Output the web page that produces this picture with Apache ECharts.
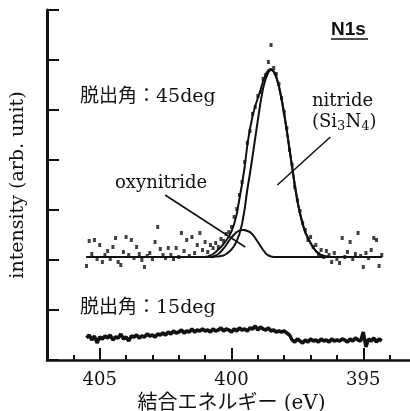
<!DOCTYPE html>
<html>
<head>
<meta charset="utf-8">
<script src="https://cdn.jsdelivr.net/npm/echarts@6/dist/echarts.min.js"></script>
<style>
  html, body { margin: 0; padding: 0; background: #fff; }
  #container { width: 410px; height: 411px; }
</style>
</head>
<body>
<div id="container"></div>
<script>
// binding energy grid of the measured spectra (eV)
var energy = [
    405.5,405.4,405.3,405.2,405.1,405.0,404.9,404.8,404.7,404.6,
    404.5,404.4,404.3,404.2,404.1,404.0,403.9,403.8,403.7,403.6,
    403.5,403.4,403.3,403.2,403.1,403.0,402.9,402.8,402.7,402.6,
    402.5,402.4,402.3,402.2,402.1,402.0,401.9,401.8,401.7,401.6,
    401.5,401.4,401.3,401.2,401.1,401.0,400.9,400.8,400.7,400.6,
    400.5,400.4,400.3,400.2,400.1,400.0,399.9,399.8,399.7,399.6,
    399.5,399.4,399.3,399.2,399.1,399.0,398.9,398.8,398.7,398.6,
    398.5,398.4,398.3,398.2,398.1,398.0,397.9,397.8,397.7,397.6,
    397.5,397.4,397.3,397.2,397.1,397.0,396.9,396.8,396.7,396.6,
    396.5,396.4,396.3,396.2,396.1,396.0,395.9,395.8,395.7,395.6,
    395.5,395.4,395.3,395.2,395.1,395.0,394.9,394.8,394.7,394.6,
    394.5,394.4,394.3
];

// 脱出角 45deg, measured points
var deg45 = [
    1.88,2.38,2.12,2.40,2.02,2.30,1.96,2.10,2.18,2.02,
    2.26,2.44,1.96,1.90,2.16,2.46,2.10,2.40,2.04,2.26,
    2.12,2.00,1.86,2.08,2.14,2.02,2.36,2.66,2.22,2.10,
    2.04,2.24,2.10,2.02,2.24,2.06,2.54,2.18,2.40,2.08,
    2.46,2.14,2.30,2.54,2.20,2.36,2.16,2.30,2.24,2.34,
    2.26,2.42,2.38,2.52,2.56,2.66,2.86,3.02,3.30,3.56,
    3.96,4.34,4.58,4.92,5.06,5.28,5.36,5.62,5.70,5.96,
    6.30,5.84,5.72,5.52,5.24,4.96,4.64,4.20,3.90,3.46,
    3.20,2.98,2.74,2.60,2.40,2.46,2.26,2.30,2.12,2.20,
    2.06,2.18,2.10,1.96,2.14,2.02,1.94,2.44,2.06,2.16,
    2.36,2.02,2.12,2.54,2.08,1.86,2.14,2.04,2.20,2.44,
    2.40,1.88,2.10
];

// 脱出角 15deg
var deg15 = [
    0.44,0.50,0.40,0.48,0.34,0.46,0.42,0.48,0.44,0.50,
    0.40,0.46,0.44,0.52,0.42,0.46,0.38,0.48,0.46,0.50,
    0.44,0.48,0.46,0.52,0.48,0.50,0.46,0.52,0.50,0.54,
    0.50,0.56,0.52,0.58,0.54,0.56,0.60,0.54,0.58,0.56,
    0.62,0.56,0.60,0.58,0.62,0.58,0.60,0.56,0.62,0.58,
    0.60,0.64,0.58,0.62,0.60,0.56,0.62,0.58,0.64,0.60,
    0.62,0.58,0.64,0.62,0.68,0.60,0.66,0.62,0.60,0.64,
    0.58,0.60,0.56,0.58,0.56,0.58,0.54,0.50,0.40,0.36,
    0.42,0.38,0.34,0.40,0.36,0.42,0.38,0.40,0.36,0.42,
    0.38,0.40,0.36,0.42,0.38,0.40,0.38,0.42,0.40,0.36,
    0.42,0.38,0.44,0.40,0.38,0.56,0.26,0.42,0.38,0.44,
    0.36,0.42,0.38
];

// fitted curves (45deg)
var fitE = [
    405.5,
    401.0,400.9,400.8,400.7,400.6,400.5,400.4,400.3,400.2,400.1,
    400.0,399.9,399.8,399.7,399.6,399.5,399.4,399.3,399.2,399.1,
    399.0,398.9,398.8,398.7,398.6,398.5,398.4,398.3,398.2,398.1,
    398.0,397.9,397.8,397.7,397.6,397.5,397.4,397.3,397.2,397.1,
    397.0,396.9,396.8,396.7,396.6,396.5,396.4,396.3,396.2,396.1,
    396.0,
    394.3
];
var envelope = [
    2.06,
    2.06,2.07,2.09,2.12,2.16,2.21,2.26,2.32,2.39,2.47,
    2.57,2.72,2.92,3.22,3.52,3.86,4.30,4.62,4.88,5.08,
    5.24,5.40,5.58,5.72,5.80,5.82,5.77,5.66,5.47,5.22,
    4.92,4.58,4.22,3.86,3.50,3.18,2.93,2.72,2.55,2.44,
    2.34,2.25,2.18,2.13,2.10,2.08,2.07,2.06,2.06,2.06,
    2.06,
    2.06
];
var nitride = [
    2.06,
    2.06,2.06,2.06,2.06,2.07,2.07,2.08,2.09,2.12,2.16,
    2.21,2.28,2.38,2.52,2.72,3.02,3.41,3.73,4.08,4.44,
    4.80,5.15,5.44,5.63,5.76,5.81,5.77,5.66,5.47,5.22,
    4.92,4.58,4.22,3.86,3.50,3.18,2.93,2.72,2.55,2.44,
    2.34,2.25,2.18,2.13,2.10,2.08,2.07,2.06,2.06,2.06,
    2.06,
    2.06
];
var oxynitride = [
    2.06,
    2.06,2.06,2.06,2.07,2.09,2.12,2.17,2.23,2.30,2.38,
    2.45,2.51,2.56,2.59,2.60,2.60,2.58,2.56,2.51,2.44,
    2.36,2.28,2.20,2.13,2.09,2.07,2.06,2.06,2.06,2.06,
    2.06,2.06,2.06,2.06,2.06,2.06,2.06,2.06,2.06,2.06,
    2.06,2.06,2.06,2.06,2.06,2.06,2.06,2.06,2.06,2.06,
    2.06,
    2.06
];

var majorTicks = [405, 400, 395];

function pairs(xs, ys) {
    return xs.map(function (x, i) { return [x, ys[i]]; });
}

var serif = '"DejaVu Serif", "Noto Sans CJK JP", serif';
var ink = '#111';

var myChart = echarts.init(document.getElementById('container'));
var option = {
    animation: false,
    backgroundColor: '#fff',
    grid: { left: 47, right: -6, top: 10, bottom: 51, outerBoundsMode: 'none', containLabel: false },
    xAxis: [{
        type: 'value',
        min: 393,
        max: 407,
        interval: 1,
        inverse: true,
        name: '結合エネルギー (eV)',
        nameLocation: 'middle',
        nameGap: 22,
        nameTextStyle: { fontFamily: serif, fontSize: 20, color: ink },
        axisLine: { lineStyle: { color: ink, width: 2.5 } },
        axisTick: { inside: true, length: 5, lineStyle: { color: ink, width: 2 } },
        axisLabel: {
            customValues: majorTicks,
            margin: 11,
            fontFamily: serif,
            fontSize: 18,
            color: ink
        },
        splitLine: { show: false }
    }, {
        // long ticks at the labelled energies
        type: 'value',
        min: 393,
        max: 407,
        inverse: true,
        position: 'bottom',
        axisLine: { show: false },
        axisTick: { inside: true, length: 12, customValues: majorTicks, lineStyle: { color: ink, width: 2 } },
        axisLabel: { show: false },
        splitLine: { show: false }
    }],
    yAxis: {
        type: 'value',
        min: 0,
        max: 7,
        interval: 1,
        name: 'intensity (arb. unit)',
        nameLocation: 'middle',
        nameGap: 19,
        nameTextStyle: { fontFamily: serif, fontSize: 19, color: ink },
        axisLine: { lineStyle: { color: ink, width: 3 } },
        axisTick: { inside: true, length: 12, lineStyle: { color: ink, width: 2 } },
        axisLabel: { show: false },
        splitLine: { show: false }
    },
    graphic: [
        { type: 'text', left: 80, top: 88, style: { text: '脱出角：45deg', fontFamily: serif, fontSize: 19, fill: ink } },
        { type: 'text', left: 80, top: 299, style: { text: '脱出角：15deg', fontFamily: serif, fontSize: 19, fill: ink } },
        { type: 'text', left: 115, top: 174, style: { text: 'oxynitride', fontFamily: serif, fontSize: 18, fill: ink } },
        { type: 'text', left: 312, top: 92, style: { text: 'nitride', fontFamily: serif, fontSize: 18, fill: ink } },
        {
            type: 'text', left: 312, top: 113,
            style: {
                text: '(Si{s|3}N{s|4})',
                fontFamily: serif, fontSize: 18, fill: ink,
                rich: { s: { fontFamily: serif, fontSize: 13, fill: ink, padding: [9, 0, 0, 0] } }
            }
        },
        { type: 'text', left: 331, top: 20, style: { text: 'N1s', fontFamily: '"Liberation Sans", Arial, sans-serif', fontWeight: 'bold', fontSize: 19, fill: ink } },
        { type: 'line', shape: { x1: 331, y1: 39, x2: 368, y2: 39 }, style: { stroke: ink, lineWidth: 1.5 } }
    ],
    series: [{
        name: '45deg',
        type: 'scatter',
        symbol: 'rect',
        symbolSize: [3, 4],
        itemStyle: { color: ink },
        data: pairs(energy, deg45)
    }, {
        name: 'envelope',
        type: 'line',
        showSymbol: false,
        lineStyle: { color: ink, width: 2 },
        data: pairs(fitE, envelope)
    }, {
        name: 'nitride',
        type: 'line',
        showSymbol: false,
        lineStyle: { color: ink, width: 2 },
        data: pairs(fitE, nitride)
    }, {
        name: 'oxynitride',
        type: 'line',
        showSymbol: false,
        lineStyle: { color: ink, width: 2 },
        data: pairs(fitE, oxynitride),
        markLine: {
            silent: true,
            symbol: 'none',
            label: { show: false },
            lineStyle: { color: ink, width: 1.5, type: 'solid' },
            data: [
                [{ coord: [402.52, 3.30] }, { coord: [399.48, 2.26] }],
                [{ coord: [396.25, 4.46] }, { coord: [398.26, 3.50] }]
            ]
        }
    }, {
        name: '15deg',
        type: 'line',
        showSymbol: false,
        lineStyle: { color: ink, width: 3.5 },
        data: pairs(energy, deg15)
    }]
};
myChart.setOption(option);
</script>
</body>
</html>
